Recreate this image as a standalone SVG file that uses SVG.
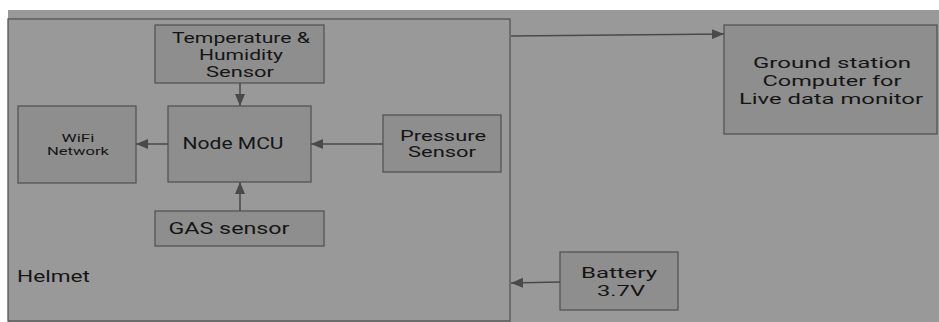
<svg xmlns="http://www.w3.org/2000/svg" width="939" height="322" viewBox="0 0 939 322">
<style>
.box{fill:#8e8e8e;stroke:#555;stroke-width:1.3}
.t{font-family:Roboto,"Liberation Sans",sans-serif;fill:#151515;text-anchor:middle}
.c{stroke:#4a4a4a;stroke-width:1.5;fill:none;marker-end:url(#ah)}
</style>
<defs>
<marker id="ah" viewBox="0 0 12 10" refX="12" refY="5" markerWidth="12" markerHeight="10" markerUnits="userSpaceOnUse" orient="auto"><path d="M0,0L12,5L0,10z" fill="#4a4a4a"/></marker>
</defs>
<rect x="0" y="0" width="939" height="322" fill="#ffffff"/>
<rect x="8" y="10" width="931" height="312" fill="#999999"/>
<g id="helmet">
<rect x="8" y="19" width="502" height="302" fill="#999999" stroke="#555" stroke-width="1.3"/>
<text class="t" x="17" y="282" font-size="16.5" style="text-anchor:start" textLength="73" lengthAdjust="spacingAndGlyphs">Helmet</text>
</g>
<g id="temp">
<rect class="box" x="155" y="25" width="169" height="58"/>
<text class="t" x="241" y="43" font-size="15" textLength="138" lengthAdjust="spacingAndGlyphs">Temperature &amp;</text>
<text class="t" x="241" y="60" font-size="15" textLength="84" lengthAdjust="spacingAndGlyphs">Humidity</text>
<text class="t" x="240" y="77" font-size="15" textLength="68" lengthAdjust="spacingAndGlyphs">Sensor</text>
</g>
<g id="mcu">
<rect class="box" x="168" y="106" width="143" height="76"/>
<text class="t" x="233" y="149" font-size="16.5" textLength="101" lengthAdjust="spacingAndGlyphs">Node MCU</text>
</g>
<g id="wifi">
<rect class="box" x="18" y="106" width="118" height="77"/>
<text class="t" x="78" y="142" font-size="10" textLength="33" lengthAdjust="spacingAndGlyphs">WiFi</text>
<text class="t" x="78" y="155" font-size="10" textLength="62" lengthAdjust="spacingAndGlyphs">Network</text>
</g>
<g id="pressure">
<rect class="box" x="383" y="115" width="118" height="57"/>
<text class="t" x="443" y="141" font-size="14.5" textLength="86" lengthAdjust="spacingAndGlyphs">Pressure</text>
<text class="t" x="442" y="157" font-size="14.5" textLength="68" lengthAdjust="spacingAndGlyphs">Sensor</text>
</g>
<g id="gas">
<rect class="box" x="155" y="211" width="169" height="35"/>
<text class="t" x="229" y="234" font-size="16.5" textLength="121" lengthAdjust="spacingAndGlyphs">GAS sensor</text>
</g>
<g id="ground">
<rect class="box" x="724" y="25" width="213" height="109"/>
<text class="t" x="832" y="68" font-size="15.5" textLength="158" lengthAdjust="spacingAndGlyphs">Ground station</text>
<text class="t" x="832" y="86" font-size="15.5" textLength="139" lengthAdjust="spacingAndGlyphs">Computer for</text>
<text class="t" x="831" y="104" font-size="15.5" textLength="184" lengthAdjust="spacingAndGlyphs">Live data monitor</text>
</g>
<g id="battery">
<rect class="box" x="560" y="252" width="118" height="58"/>
<text class="t" x="619" y="278" font-size="15" textLength="76" lengthAdjust="spacingAndGlyphs">Battery</text>
<text class="t" x="621" y="296" font-size="15" textLength="48" lengthAdjust="spacingAndGlyphs">3.7V</text>
</g>
<g id="connectors">
<line class="c" x1="240" y1="83" x2="240" y2="106"/>
<line class="c" x1="240" y1="211" x2="240" y2="182"/>
<line class="c" x1="168" y1="144" x2="136" y2="144"/>
<line class="c" x1="383" y1="144" x2="311" y2="144"/>
<line class="c" x1="511" y1="36" x2="724" y2="34"/>
<line class="c" x1="560" y1="282" x2="511" y2="283"/>
</g>
</svg>
